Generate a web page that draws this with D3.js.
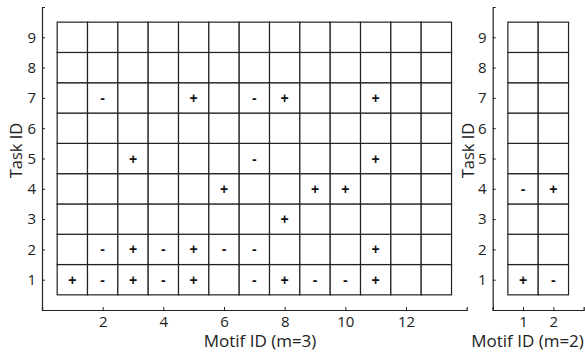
<!DOCTYPE html>
<html>
<head>
<meta charset="utf-8">
<script src="https://cdn.jsdelivr.net/npm/d3@7"></script>
<style>
  body { margin: 0; background: #fff; }
  svg { display: block; }
</style>
</head>
<body>
<svg id="chart" width="585" height="354"></svg>
<script>
// task rows (1..9) and motif columns
const tasks = [1, 2, 3, 4, 5, 6, 7, 8, 9];
const motifsM3 = [1, 2, 3, 4, 5, 6, 7, 8, 9, 10, 11, 12, 13];
const motifsM2 = [1, 2];

// signs: [motif, task, sign]
const signsM3 = [
  [2, 7, "-"], [5, 7, "+"], [7, 7, "-"], [8, 7, "+"], [11, 7, "+"],
  [3, 5, "+"], [7, 5, "-"], [11, 5, "+"],
  [6, 4, "+"], [9, 4, "+"], [10, 4, "+"],
  [8, 3, "+"],
  [2, 2, "-"], [3, 2, "+"], [4, 2, "-"], [5, 2, "+"], [6, 2, "-"], [7, 2, "-"], [11, 2, "+"],
  [1, 1, "+"], [2, 1, "-"], [3, 1, "+"], [4, 1, "-"], [5, 1, "+"], [7, 1, "-"], [8, 1, "+"],
  [9, 1, "-"], [10, 1, "-"], [11, 1, "+"]
];
const signsM2 = [
  [1, 4, "-"], [2, 4, "+"],
  [1, 1, "+"], [2, 1, "-"]
];

const xTicksM3 = [2, 4, 6, 8, 10, 12];
const xTicksM2 = [1, 2];

const FONT = "'Open Sans', 'Noto Sans', sans-serif";
const svg = d3.select("#chart");

function drawPanel(opt) {
  const g = svg.append("g");

  const x = d3.scaleLinear()
    .domain([0, opt.xMax])
    .range([opt.left, opt.right]);
  const y = d3.scaleLinear()
    .domain([0, 10])
    .range([310, 7]);

  // grid cells
  const cells = [];
  opt.motifs.forEach(m => tasks.forEach(t => cells.push({m: m, t: t})));
  g.selectAll("rect.cell")
    .data(cells)
    .join("rect")
    .attr("class", "cell")
    .attr("x", d => x(d.m - 0.5))
    .attr("y", d => y(d.t + 0.5))
    .attr("width", d => x(d.m + 0.5) - x(d.m - 0.5))
    .attr("height", d => y(d.t - 0.5) - y(d.t + 0.5))
    .attr("fill", "#fff")
    .attr("stroke", "#222")
    .attr("stroke-width", 1.2);

  // + / - marks
  g.selectAll("text.sign")
    .data(opt.signs)
    .join("text")
    .attr("class", "sign")
    .attr("x", d => x(d[0]))
    .attr("y", d => y(d[1]))
    .attr("text-anchor", "middle")
    .attr("dominant-baseline", "central")
    .attr("font-family", "'Liberation Sans', Arial, sans-serif")
    .attr("font-size", 14)
    .attr("font-weight", "bold")
    .attr("fill", "#111")
    .text(d => d[2]);

  // axes
  const xAxis = g.append("g")
    .attr("transform", "translate(0,310)")
    .call(d3.axisBottom(x).tickValues(opt.xTicks).tickFormat(d3.format("d"))
      .tickSizeInner(-3).tickSizeOuter(-3).tickPadding(6));

  const yAxis = g.append("g")
    .attr("transform", `translate(${opt.left},0)`)
    .call(d3.axisLeft(y).tickValues(tasks).tickFormat(d3.format("d"))
      .tickSizeInner(-3).tickSizeOuter(-3).tickPadding(6));

  [xAxis, yAxis].forEach(a => {
    a.attr("font-family", FONT).attr("font-size", 15);
    a.selectAll("text").attr("fill", "#222");
    a.selectAll("path, line").attr("stroke", "#222");
    a.select(".domain").attr("stroke-width", 1.2);
  });

  g.append("text")
    .attr("x", opt.xLabelX)
    .attr("y", 347)
    .attr("text-anchor", "middle")
    .attr("font-family", FONT)
    .attr("font-size", 17)
    .attr("fill", "#222")
    .text(opt.xLabel);

  g.append("text")
    .attr("transform", `translate(${opt.yLabelX},150.5) rotate(-90)`)
    .attr("text-anchor", "middle")
    .attr("font-family", FONT)
    .attr("font-size", 16.5)
    .attr("fill", "#222")
    .text("Task ID");
}

drawPanel({
  motifs: motifsM3, signs: signsM3, xTicks: xTicksM3, xMax: 14,
  left: 42, right: 466.7,
  xLabel: "Motif ID (m=3)", xLabelX: 260, yLabelX: 21.5
});

drawPanel({
  motifs: motifsM2, signs: signsM2, xTicks: xTicksM2, xMax: 3,
  left: 492.7, right: 583.7,
  xLabel: "Motif ID (m=2)", xLabelX: 527.5, yLabelX: 474
});
</script>
</body>
</html>
